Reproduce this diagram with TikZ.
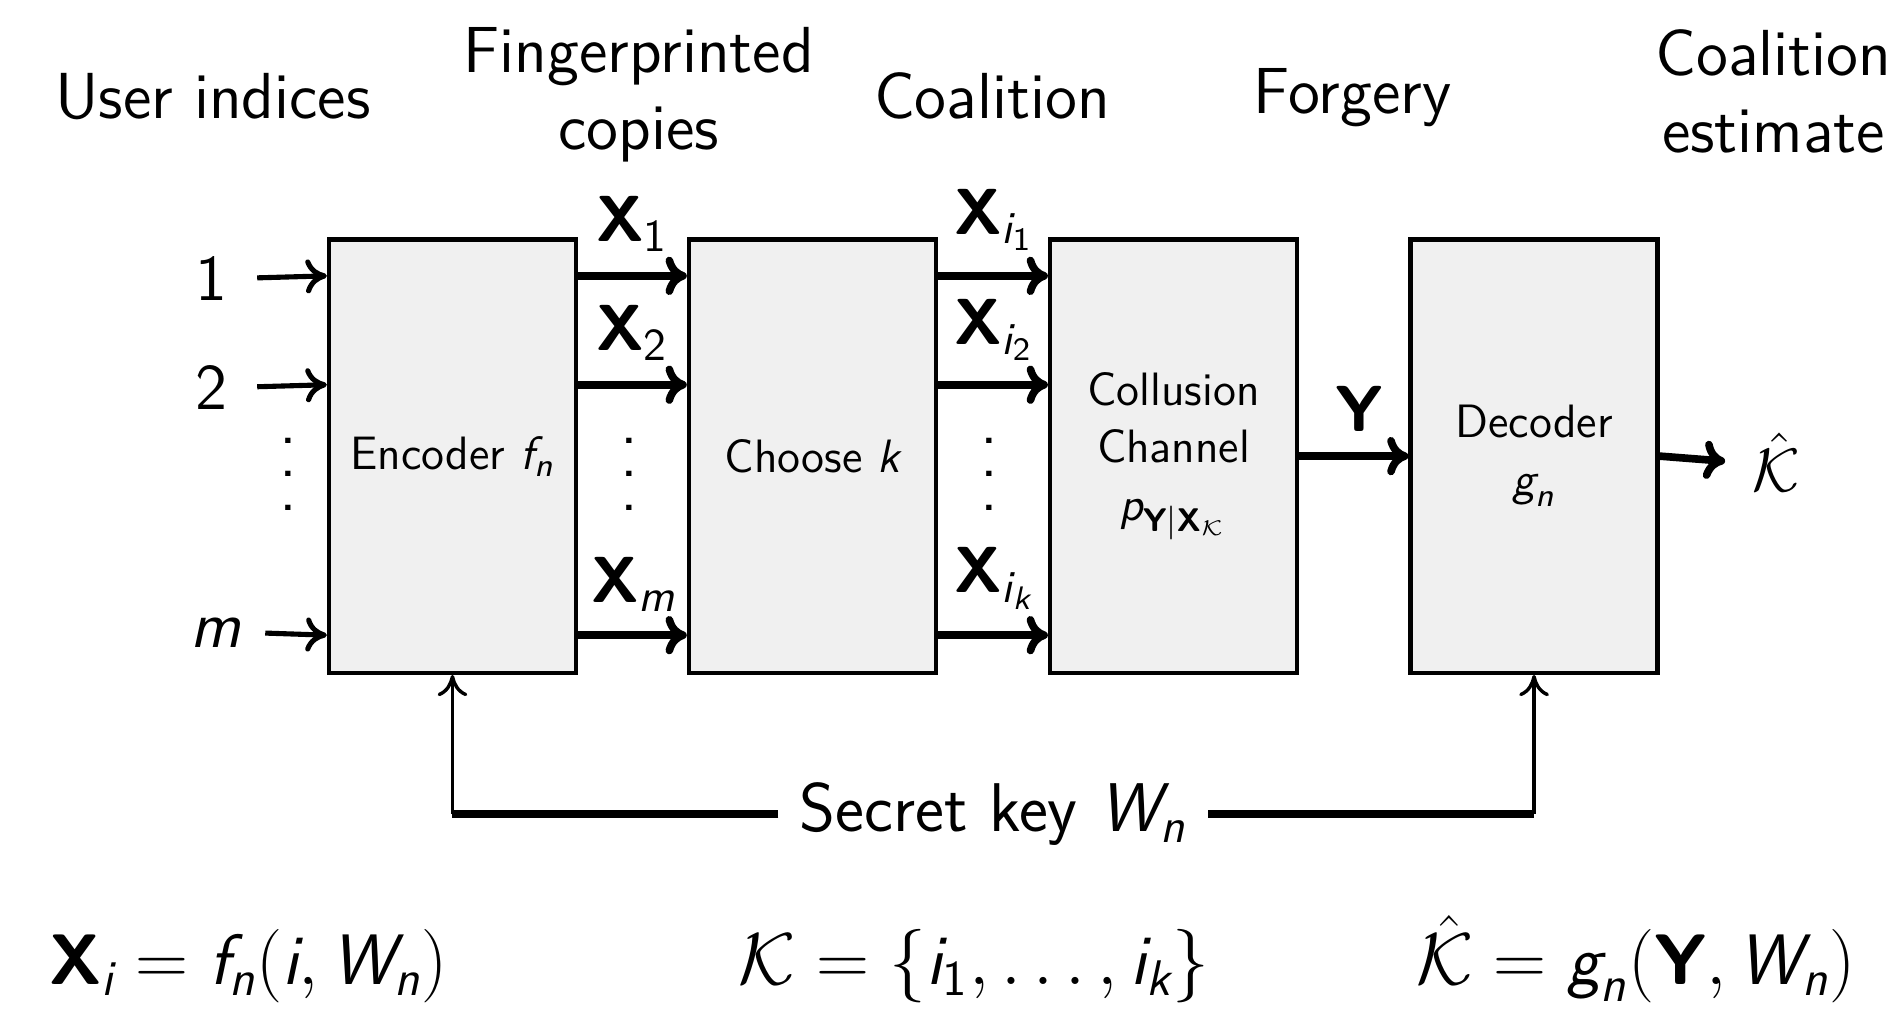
\documentclass[tikz,border=0pt]{standalone}
\usepackage{amsmath}
\usetikzlibrary{arrows.meta}
\renewcommand{\familydefault}{\sfdefault}
\definecolor{boxgray}{RGB}{240,240,240}
\newcommand{\myvdots}{\vbox{\baselineskip=7.8pt\lineskiplimit=0pt\hbox{.}\hbox{.}\hbox{.}}}
\newcommand{\sv}[1]{\text{\sffamily\itshape #1}}
\newcommand{\svb}[1]{\text{\sffamily\bfseries #1}}
\newcommand{\sn}[1]{\text{\sffamily #1}}
\begin{document}
\begin{tikzpicture}[x=0.01cm,y=-0.01cm,
  font=\fontsize{15.3}{18}\selectfont\sffamily,
  blockbox/.style={draw, line width=1pt, fill=boxgray, minimum width=2.04cm,
    minimum height=3.58cm, inner sep=0pt, align=center,
    font=\fontsize{11}{13.5}\selectfont\sffamily},
  inarrow/.style={line width=1.2pt, -{To[length=5pt,width=8pt]}},
  fatarrow/.style={line width=1.8pt, -{To[length=5pt,width=9pt]}},
  keyline/.style={line width=1.8pt},
  keyarrow/.style={line width=0.8pt, -{To[length=5pt,width=7pt]}},
  lab/.style={anchor=base west, inner sep=0pt},
  head/.style={anchor=base, align=center, inner sep=0pt},
  formula/.style={anchor=base west, inner sep=0pt, font=\fontsize{16.8}{20}\selectfont\sffamily}]
\useasboundingbox (0,0) rectangle (1568,835);

% header labels
\node[head] (hu) at (176,98) {User indices};
\node[head, anchor=north] (hf) at (528,22) {Fingerprinted\\copies};
\node[head] (hc) at (820,98) {Coalition};
\node[head] (hg) at (1118,94) {Forgery};
\node[head, anchor=north] (he) at (1466,24) {Coalition\\estimate};

% blocks
\node[blockbox] (enc) at (374,377) {Encoder $\sv{f}_{\sv{n}}$};
\node[blockbox] (cho) at (671.5,377) {Choose $\sv{k}$};
\node[blockbox] (col) at (970,377) {Collusion\\Channel\\$\sv{p}_{\svb{Y}|\svb{X}_{\mathcal{K}}}$};
\node[blockbox] (dec) at (1268,377) {Decoder\\$\sv{g}_{\sv{n}}$};

% row coordinates
\coordinate (r1) at (0,228);
\coordinate (r2) at (0,318);
\coordinate (rm) at (0,525);

% inputs
\node (in1) at (175,230) {1};
\node (in2) at (175,320) {2};
\node (inm) at (178,523) {\itshape m};
\node (d0) at (238,392) {\myvdots};
\draw[inarrow, shorten <=0.12cm] (in1.east) -- (enc.west |- r1);
\draw[inarrow, shorten <=0.12cm] (in2.east) -- (enc.west |- r2);
\draw[inarrow, shorten <=0.08cm] (inm.east) -- (enc.west |- rm);

% fingerprinted copies
\draw[fatarrow] (enc.east |- r1) -- (cho.west |- r1);
\draw[fatarrow] (enc.east |- r2) -- (cho.west |- r2);
\draw[fatarrow] (enc.east |- rm) -- (cho.west |- rm);
\node[lab] (lx1) at (492,200) {$\svb{X}_{\sn{1}}$};
\node[lab] (lx2) at (492,290) {$\svb{X}_{\sn{2}}$};
\node[lab] (lxm) at (488,498) {$\svb{X}_{\sv{m}}$};
\node (d1) at (520,392) {\myvdots};

% coalition
\draw[fatarrow] (cho.east |- r1) -- (col.west |- r1);
\draw[fatarrow] (cho.east |- r2) -- (col.west |- r2);
\draw[fatarrow] (cho.east |- rm) -- (col.west |- rm);
\node[lab] (li1) at (788,194) {$\svb{X}_{\sv{i}_{\sn{1}}}$};
\node[lab] (li2) at (788,285) {$\svb{X}_{\sv{i}_{\sn{2}}}$};
\node[lab] (lik) at (788,490) {$\svb{X}_{\sv{i}_{\sv{k}}}$};
\node (d2) at (818,392) {\myvdots};

% forgery
\draw[fatarrow] (col.east) -- (dec.west);
\node[lab] (ly) at (1103,357) {$\svb{Y}$};

% estimate
\node (kh) at (1468,382) {$\hat{\mathcal{K}}$};
\draw[fatarrow, shorten >=0.1cm] (dec.east) -- (kh.west);

% secret key
\node[inner xsep=0.17cm, font=\fontsize{16.2}{19}\selectfont\sffamily] (sk) at (821,673) {Secret key $\sv{W}_{\sv{n}}$};
\draw[keyline] (sk.west) -- (enc.south |- sk.west);
\draw[keyline] (sk.east) -- (dec.south |- sk.east);
\draw[keyarrow] (enc.south |- sk.west) -- (enc.south);
\draw[keyarrow] (dec.south |- sk.east) -- (dec.south);

% definitions
\node[formula] (f1) at (40,814) {$\svb{X}_{\sv{i}} = \sv{f}_{\sv{n}}(\sv{i}, \sv{W}_{\sv{n}})$};
\node[formula] (f2) at (610,814) {$\mathcal{K} = \{\sv{i}_{\sn{1}}, \ldots, \sv{i}_{\sv{k}}\}$};
\node[formula] (f3) at (1170,814) {$\hat{\mathcal{K}} = \sv{g}_{\sv{n}}(\svb{Y}, \sv{W}_{\sv{n}})$};
\end{tikzpicture}
\end{document}
